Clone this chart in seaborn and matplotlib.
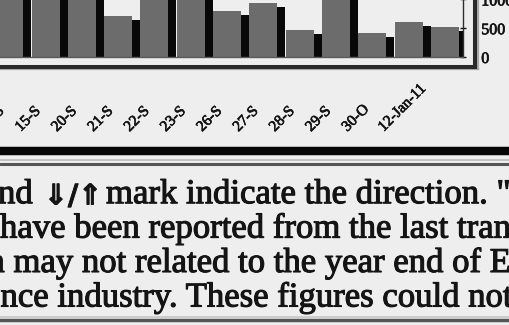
import numpy as np
import pandas as pd
import seaborn as sns
import matplotlib.pyplot as plt
from matplotlib import patheffects as pe
from matplotlib.lines import Line2D
from matplotlib.transforms import ScaledTranslation

# Daily counts shown as bars, read against the right-hand scale
dates = ["14-S", "15-S", "20-S", "21-S", "22-S", "23-S", "26-S",
         "27-S", "28-S", "29-S", "30-O", "12-Jan-11", ""]
counts = [1150, 1300, 1250, 715, 1400, 1350, 807, 941, 472, 1200, 420, 616, 517]
y_ticks = [0, 500, 1000, 1500]

# Footnote text below the chart
note_head = "nd"
note_arrows = "\u21d3/\u21d1"
note_tail = "mark indicate the direction. \"A"
note_lines = [
    "have been reported from the last tran",
    "n may not related to the year end of E",
    "nce industry. These figures could not",
]

W, H = 510, 325
DPI = 100
BG = "#eeeeee"
INK = "#141414"
SERIF = ["Liberation Serif", "DejaVu Serif"]


def fx(px):
    return px / W


def fy(py):
    return 1 - py / H


def heavy(width):
    # printed type looks a little heavier than the plain outline
    return [pe.withStroke(linewidth=width, foreground=INK)]


sns.set_style("white", {"axes.facecolor": "none", "figure.facecolor": BG})
plt.rcParams["font.family"] = SERIF

fig = plt.figure(figsize=(W / DPI, H / DPI), dpi=DPI, facecolor=BG)

# Plot area: extends past the left and top edges of the canvas
ax_left, ax_right, ax_bottom, ax_top = -8.9, 463, 57, -30
ax = fig.add_axes([fx(ax_left), fy(ax_bottom),
                   (ax_right - ax_left) / W, (ax_bottom - ax_top) / H])

df = pd.DataFrame({"slot": np.arange(len(counts)), "count": counts})
sns.barplot(data=df, x="slot", y="count", color="#6c6c6c", saturation=1,
            width=0.77, linewidth=0, ax=ax)

# Solid dark side face on each bar
for bar in ax.patches:
    bar.set_path_effects([
        pe.SimplePatchShadow(offset=(5.8, -3.0), shadow_rgbFace="#080808", alpha=1.0),
        pe.Normal(),
    ])

ax.set_xlim(-0.5, len(counts) - 0.5)
ax.set_ylim(0, (ax_bottom - ax_top) / 28.8 * 500)
ax.set_xlabel("")
ax.set_ylabel("")

for side in ("left", "top"):
    ax.spines[side].set_visible(False)
ax.spines["right"].set_color("#2e2e2e")
ax.spines["right"].set_linewidth(1.0)
ax.spines["bottom"].set_color("#5a5a5a")
ax.spines["bottom"].set_linewidth(1.0)

# Value axis on the right
ax.yaxis.tick_right()
ax.set_yticks(y_ticks)
ax.tick_params(axis="y", direction="inout", length=4.3, width=1.0, pad=11.0,
               labelsize=11.5, colors=INK)
for lab in ax.get_yticklabels():
    lab.set_path_effects(heavy(0.5))

# Category ticks between bars, labels at bar centres
ax.set_xticks(np.arange(len(dates)), dates)
ax.set_xticks(np.arange(-0.5, len(dates), 1.0), minor=True)
ax.tick_params(axis="x", which="major", length=0, pad=54, labelsize=11,
               labelcolor=INK)
ax.tick_params(axis="x", which="minor", direction="out", length=4.3,
               width=1.1, color="#222222")
shift = ScaledTranslation(-25 / DPI, 0, fig.dpi_scale_trans)
for lab in ax.get_xticklabels():
    lab.set_rotation(45)
    lab.set_rotation_mode("anchor")
    lab.set_horizontalalignment("left")
    lab.set_verticalalignment("baseline")
    lab.set_transform(lab.get_transform() + shift)
    lab.set_path_effects(heavy(0.5))

# Plot-area border with its soft outer edge
frame_y, frame_x = 66.5, 475
for off, col, lw in ((2.6, "#a8a8a8", 1.6), (0, "#2a2a2a", 2.9)):
    fig.add_artist(Line2D([fx(-5), fx(frame_x + off)], [fy(frame_y + off)] * 2,
                          color=col, lw=lw, transform=fig.transFigure,
                          solid_capstyle="projecting"))
    fig.add_artist(Line2D([fx(frame_x + off)] * 2, [fy(-5), fy(frame_y + off)],
                          color=col, lw=lw, transform=fig.transFigure,
                          solid_capstyle="projecting"))

# Heavy rule separating chart and footnote
fig.add_artist(Line2D([0, 1], [fy(150.8)] * 2, color="#060606", lw=6.1,
                      transform=fig.transFigure))

# Footnote box edges
for y, col, lw in ((159.8, "#c2c2c2", 1.4), (163.6, "#555555", 2.2),
                   (316.8, "#c6c6c6", 1.2), (319.8, "#555555", 2.5)):
    fig.add_artist(Line2D([0, 1], [fy(y)] * 2, color=col, lw=lw,
                          transform=fig.transFigure))

# Footnote text
TXT = dict(fontsize=25.0, color=INK, va="baseline", ha="left",
           path_effects=heavy(0.8))
fig.text(fx(-2), fy(203.2), note_head, family=SERIF, **TXT)
fig.text(fx(44), fy(204.5), note_arrows, family=["DejaVu Sans"],
         fontweight="bold", fontsize=20.5, color=INK, va="baseline", ha="left",
         path_effects=heavy(0.6))
fig.text(fx(106), fy(203.2), note_tail, family=SERIF, **TXT)
for x0, base, line in zip((0, -12.6, 0.5), (237.6, 272.0, 306.5), note_lines):
    fig.text(fx(x0), fy(base), line, family=SERIF, **TXT)

fig.savefig("out.png", dpi=DPI, facecolor=BG)
